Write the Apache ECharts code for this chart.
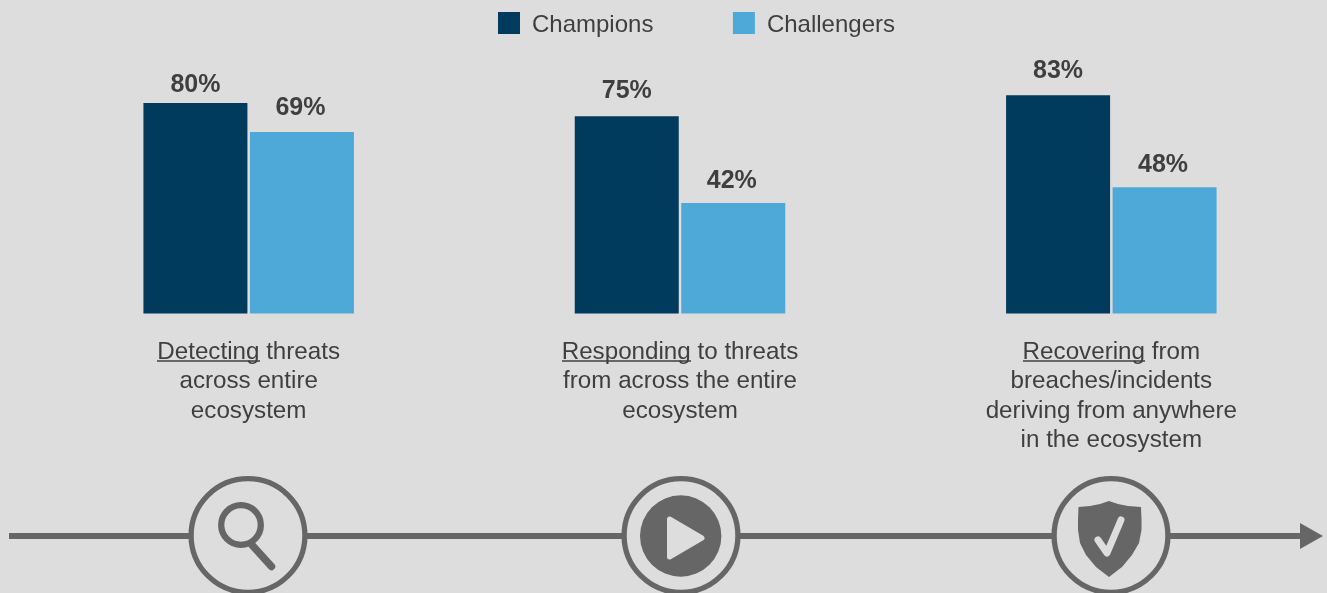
<!DOCTYPE html>
<html><head><meta charset="utf-8">
<style>html,body{margin:0;padding:0;background:#dddddd}#c{width:1327px;height:593px}</style>
<script src="https://cdn.jsdelivr.net/npm/echarts@6/dist/echarts.min.js"></script>
</head><body><div id="c"></div>
<script>
const categories = [
  'Detecting threats\nacross entire\necosystem',
  'Responding to threats\nfrom across the entire\necosystem',
  'Recovering from\nbreaches/incidents\nderiving from anywhere\nin the ecosystem'
];
const champions = [80, 75, 83];
const challengers = [69, 42, 48];
const seriesNames = ['Champions', 'Challengers'];
const championLabelGaps = [5, 12.5, 12];
const challengerLabelGaps = [11.5, 9.5, 9.5];
const GREY = '#666666', BG = '#dddddd', TXT = '#3f3f3f', FONT = '"Liberation Sans", Arial, sans-serif';

const ring = (cx) => ({type:'circle', shape:{cx, cy:535.5, r:56.9}, style:{fill:BG, stroke:GREY, lineWidth:5.3}, z:2});
const underline = (x1, x2) => ({type:'rect', shape:{x:x1, y:360.2, width:x2-x1, height:1.5}, style:{fill:TXT}, z:5});
const shield = [[1109,501],[1100,504],[1090,506],[1078.5,507],[1078,520],[1078,530],[1080,543],[1086,555],[1096,567],[1109,577],
  [1122,567],[1132,555],[1139,543],[1141.5,530],[1141.5,520],[1141,507],[1128,506],[1118,504]];
const labelStyle = {show:true, position:'top', formatter:'{c}%', fontSize:25, fontWeight:'bold', color:TXT, fontFamily:FONT};
const items = (vals, gaps, dx) => vals.map((v,i) => ({value:v, label:{distance:gaps[i], offset:[dx,0]}}));

const chart = echarts.init(document.getElementById('c'));
chart.setOption({
  backgroundColor: BG,
  animation: false,
  textStyle: {fontFamily: FONT},
  legend: {
    left: 493, top: 7, itemWidth: 22, itemHeight: 22, itemGap: 79.5,
    icon: 'rect',
    formatter: '{a|{name}}',
    textStyle: {fontSize: 24, color: TXT, fontFamily: FONT, padding: [0,0,0,7],
      rich: {a: {fontSize: 24, color: TXT, fontFamily: FONT, padding: [4,0,0,0]}}},
    data: seriesNames
  },
  grid: {left: 33, right: -1.1, top: 50.5, bottom: 279.5},
  xAxis: {
    type: 'category', data: categories,
    axisLine: {show:false}, axisTick: {show:false},
    axisLabel: {interval:0, margin:24, fontSize:24.2, lineHeight:29.5, color:TXT, fontFamily:FONT, verticalAlign:'top', align:'center'}
  },
  yAxis: {type:'value', min:0, max:100, show:false, splitLine:{show:false}},
  series: [
    {name:seriesNames[0], type:'bar', data:items(champions, championLabelGaps, 0), barWidth:104, barGap:'2.4%',
     itemStyle:{color:'#003a5d'}, label:labelStyle},
    {name:seriesNames[1], type:'bar', data:items(challengers, challengerLabelGaps, -1.5), barWidth:104,
     itemStyle:{color:'#4ea9d8'}, label:labelStyle}
  ],
  graphic: {elements: [
    underline(157,260), underline(562,691), underline(1023,1145),
    {type:'rect', shape:{x:9, y:533, width:1295, height:6}, style:{fill:GREY}, z:1},
    {type:'polygon', shape:{points:[[1300,523],[1323,536],[1300,549]]}, style:{fill:GREY}, z:1},
    ring(248), ring(681), ring(1111),
    {type:'circle', shape:{cx:241, cy:525, r:19.8}, style:{fill:'none', stroke:GREY, lineWidth:6.3}, z:3},
    {type:'line', shape:{x1:252, y1:545, x2:271.5, y2:566.5}, style:{stroke:GREY, lineWidth:7.5, lineCap:'round'}, z:3},
    {type:'circle', shape:{cx:680.7, cy:536, r:40.7}, style:{fill:GREY}, z:3},
    {type:'polygon', shape:{points:[[669.5,519],[669.5,557],[702,538]]}, style:{fill:BG, stroke:BG, lineWidth:5, lineJoin:'round'}, z:4},
    {type:'polygon', shape:{points:shield}, style:{fill:GREY}, z:3},
    {type:'polyline', shape:{points:[[1098,540],[1107,553],[1121,520]]}, style:{fill:'none', stroke:BG, lineWidth:7, lineCap:'round', lineJoin:'round'}, z:4}
  ]}
});
</script></body></html>
